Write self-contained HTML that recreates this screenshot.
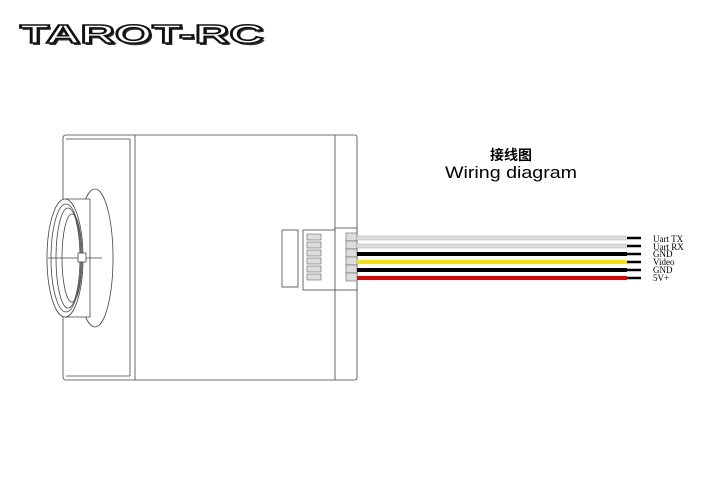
<!DOCTYPE html>
<html><head><meta charset="utf-8"><style>
html,body{margin:0;padding:0;background:#fff;width:720px;height:480px;overflow:hidden}
</style></head><body>
<svg width="720" height="480" viewBox="0 0 720 480" xmlns="http://www.w3.org/2000/svg">
<rect width="720" height="480" fill="#fff"/>
<!-- logo -->
<text x="20" y="43" font-family="Liberation Sans, sans-serif" font-weight="bold" font-size="26" textLength="244" lengthAdjust="spacingAndGlyphs" fill="#333" transform="translate(2,2)">TAROT-RC</text>
<text x="20" y="43" font-family="Liberation Sans, sans-serif" font-weight="bold" font-size="26" textLength="244" lengthAdjust="spacingAndGlyphs" fill="#fff" stroke="#111" stroke-width="1.6">TAROT-RC</text>
<!-- camera -->
<g fill="none" stroke="#444" stroke-width="0.8">
<path d="M66 135 H355 Q357 135 357 138 V377 Q357 380 355 380 H66 Q63 380 63 377 V138 Q63 135 66 135Z" fill="#fff"/>
<line x1="135" y1="135" x2="135" y2="380"/>
<line x1="130" y1="139" x2="130" y2="376"/>
<line x1="66" y1="139" x2="130" y2="139"/>
<line x1="66" y1="376" x2="130" y2="376"/>
<line x1="335" y1="135" x2="335" y2="380"/>
<ellipse cx="95" cy="258" rx="18" ry="69" fill="#fff"/>
<path d="M65 199 H90 V317 H65" fill="#fff"/>
<ellipse cx="65" cy="258" rx="18" ry="59" fill="#fff"/>
<ellipse cx="66" cy="258" rx="15" ry="54"/>
<ellipse cx="68" cy="258" rx="12" ry="50"/>
<ellipse cx="72" cy="258" rx="10" ry="44"/>
<line x1="48" y1="258" x2="102" y2="258"/>
<rect x="78" y="253" width="8" height="9" fill="#fff"/>
<!-- connector -->
<rect x="282" y="230" width="16" height="57" fill="#fff"/>
<rect x="303" y="230" width="34" height="60" fill="#fff"/>
<rect x="335" y="228" width="22" height="62" fill="#fff"/>
</g>
<g stroke="#666" stroke-width="0.6" fill="#ddd">
<rect x="307" y="234" width="14" height="6"/><rect x="307" y="242" width="14" height="6"/>
<rect x="307" y="250" width="14" height="6"/><rect x="307" y="258" width="14" height="6"/>
<rect x="307" y="266" width="14" height="6"/><rect x="307" y="274" width="14" height="6"/>
<rect x="346" y="233" width="11" height="8"/><rect x="346" y="241" width="11" height="8"/>
<rect x="346" y="249" width="11" height="8"/><rect x="346" y="257" width="11" height="8"/>
<rect x="346" y="265" width="11" height="8"/><rect x="346" y="273" width="11" height="8"/>
</g>
<!-- wires -->
<g stroke-width="4">
<line x1="357" y1="238" x2="627" y2="238" stroke="#ddd"/>
<line x1="357" y1="246" x2="627" y2="246" stroke="#ddd"/>
<line x1="357" y1="254" x2="627" y2="254" stroke="#000"/>
<line x1="357" y1="262" x2="627" y2="262" stroke="#f5e000"/>
<line x1="357" y1="270" x2="627" y2="270" stroke="#000"/>
<line x1="357" y1="278" x2="627" y2="278" stroke="#e00000"/>
</g>
<g stroke="#aaa" stroke-width="0.5" fill="none">
<line x1="357" y1="236" x2="627" y2="236"/><line x1="357" y1="240" x2="627" y2="240"/>
<line x1="357" y1="244" x2="627" y2="244"/><line x1="357" y1="248" x2="627" y2="248"/>
</g>
<g stroke="#000" stroke-width="2.5">
<line x1="627" y1="238" x2="641" y2="238"/><line x1="627" y1="246" x2="641" y2="246"/>
<line x1="627" y1="254" x2="641" y2="254"/><line x1="627" y1="262" x2="641" y2="262"/>
<line x1="627" y1="270" x2="641" y2="270"/><line x1="627" y1="278" x2="641" y2="278"/>
</g>
<g font-family="Liberation Serif, serif" font-size="9" fill="#000">
<text x="653" y="242">Uart TX</text>
<text x="653" y="250">Uart RX</text>
<text x="653" y="257">GND</text>
<text x="653" y="265">Video</text>
<text x="653" y="273">GND</text>
<text x="653" y="281">5V+</text>
</g>
<text x="511" y="160" text-anchor="middle" font-family="Liberation Sans, 'Noto Sans CJK SC', sans-serif" font-weight="bold" font-size="14">接线图</text>
<text x="511" y="178" text-anchor="middle" font-family="Liberation Sans, sans-serif" font-size="17" textLength="132" lengthAdjust="spacingAndGlyphs">Wiring diagram</text>
</svg>
</body></html>
